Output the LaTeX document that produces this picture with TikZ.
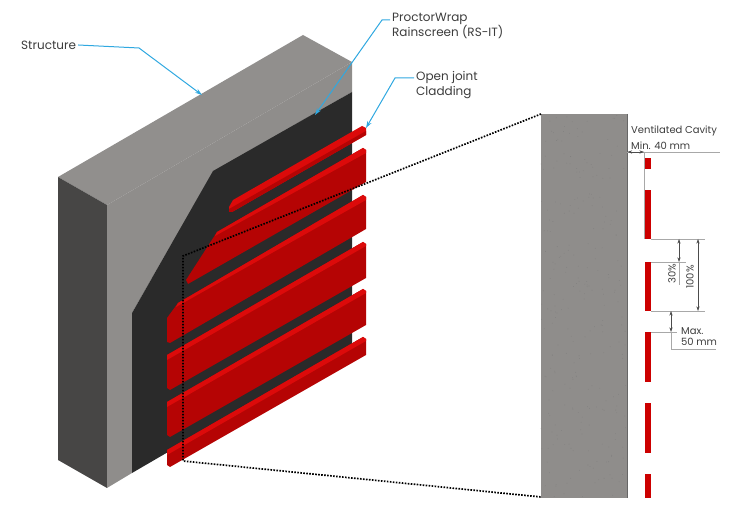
\documentclass[tikz,border=0pt]{standalone}
\usepackage{fontspec}
\setmainfont{Poppins}
\usepackage{xcolor}
\usetikzlibrary{positioning,calc,arrows.meta}
\definecolor{wallfront}{HTML}{8F8D8B}
\definecolor{walltop}{HTML}{918F8D}
\definecolor{wallside}{HTML}{474645}
\definecolor{wrapdark}{HTML}{2A2A2A}
\definecolor{cladfront}{HTML}{B50404}
\definecolor{cladband}{HTML}{DC0A0A}
\definecolor{leadblue}{HTML}{2FA8E0}
\definecolor{dimgray}{HTML}{A8A8A8}
\definecolor{labelgray}{HTML}{3C3C3C}
\tikzset{
	label/.style={font=\fontsize{12}{15}\selectfont, text=labelgray, align=left, inner sep=0pt, anchor=west},
	dimlabel/.style={font=\fontsize{10}{11.5}\selectfont, text=labelgray, align=left, inner sep=0pt},
	leader/.style={draw=leadblue, line width=1pt, -{Stealth[length=7pt,width=4.5pt]}},
	dimline/.style={draw=dimgray, line width=0.6pt},
	dimarrow/.style={draw=black!70, line width=0.4pt, {Stealth[length=4.5pt,width=3pt]}-{Stealth[length=4.5pt,width=3pt]}},
	zoomline/.style={draw=black, line width=1.7pt, dash pattern=on 1.6pt off 1.4pt},
}
\begin{document}
\begin{tikzpicture}[x=1pt,y=-1pt]
	\useasboundingbox (0,0) rectangle (756,510);
	% wall block
	\fill[walltop] (58,177) -- (303,35) -- (352,62) -- (107,205) -- cycle;
	\fill[wallside] (58,177) -- (107,205) -- (107,488) -- (58,460) -- cycle;
	\fill[wallfront] (107,205) -- (352,62) -- (352,92) -- (213,172) -- (132,313) -- (132,473) -- (107,488) -- cycle;
	\fill[wrapdark] (352,92) -- (213,171) -- (132,313) -- (132,473) -- (352,345) -- cycle;
	% cladding boards
	\fill[cladband] (233,200) -- (362,126) -- (366,128) -- (366,135) -- (232,212) -- (229,212) -- (229,207) -- cycle;
	\fill[cladfront] (366,131) -- (366,135) -- (232,212) -- (229,212) -- (229,209) -- cycle;
	\fill[cladfront] (363,148) -- (366,150) -- (366,182) -- (188,284) -- (186,280) -- (217,232) -- cycle;
	\fill[cladband] (217,232) -- (363,148) -- (366,150) -- (366,153) -- (215,236) -- cycle;
	\fill[cladfront] (363,195) -- (366,197) -- (366,229) -- (170,343) -- (167,342) -- (167,318) -- (178,303) -- cycle;
	\fill[cladband] (178,303) -- (363,195) -- (366,197) -- (366,200) -- (176,307) -- cycle;
	\foreach \ya/\h in {242/34,289/34,337/16}{
		\fill[cladfront] (363,\ya) -- (366,\ya+2) -- (366,\ya+2+\h) -- (170,\ya+114+\h) -- (167,\ya+112+\h) -- (167,\ya+113) -- cycle;
		\fill[cladband] (167,\ya+113) -- (363,\ya) -- (366,\ya+2) -- (366,\ya+4) -- (167,\ya+118) -- cycle;
	}
	% section
	\fill[wallfront] (541,114) rectangle (627,498);
	\pgfmathsetseed{7}
	\foreach \i in {1,...,260}{
		\fill[black!55, opacity=0.5] ({541+rnd*85},{114+rnd*383}) circle (0.4);
	}
	\draw[black!60, line width=0.7pt] (627,114) -- (627,498);
	\foreach \ya/\yb in {158/169,190/239,262/311,332/382,403/453,474/498}{
		\fill[red!80!black] (644.5,\ya) rectangle (651,\yb);
	}
	% zoom lines
	\coordinate (cornerA) at (183,256);
	\coordinate (cornerB) at (183,461);
	\coordinate (sectionA) at (541,114);
	\coordinate (sectionB) at (541,497);
	\draw[zoomline] (sectionA) -- (cornerA) -- (cornerB) -- (sectionB);
	% labels
	\node[label] (structure) at (21,45) {Structure};
	\node[label, anchor=north west] (wrap) at (392,13) {ProctorWrap\\Rainscreen (RS-IT)};
	\node[label, anchor=north west] (joint) at (416,71) {Open joint\\Cladding};
	\coordinate (structureTip) at (202,95);
	\coordinate (wrapTip) at (315,115);
	\coordinate (jointTip) at (366,128);
	\draw[leader] (structure.east) ++(2,0) -- (139,48) -- (structureTip);
	\draw[leader] (wrap.north west) ++(-2,7) -- (382,20) -- (wrapTip);
	\draw[leader] (joint.north west) ++(-2,7) -- (395,78) -- (jointTip);
	% dimensions
	\draw[dimline] (644,152) -- (644,239);
	\draw[dimline] (627,152) -- (720,152);
	\draw[dimline] (651,239) -- (705,239);
	\draw[dimline] (651,262) -- (686,262);
	\draw[dimline] (651,311) -- (705,311);
	\draw[dimline] (651,332) -- (677,332);
	\draw[dimline] (679,262) -- (679,285);
	\draw[dimline] (671,332) -- (671,349) -- (716,349);
	\draw[dimarrow] (627.5,152) -- (644,152);
	\draw[dimarrow] (679,239) -- (679,262);
	\draw[dimarrow] (698,239) -- (698,311);
	\draw[dimarrow] (671,311) -- (671,332);
	\node[dimlabel, anchor=west] (cavity) at (631,131) {Ventilated Cavity};
	\node[dimlabel, anchor=west] (cavitymin) at (631,146) {Min. 40 mm};
	\node[dimlabel, rotate=90] (short) at (672,274) {30\%};
	\node[dimlabel, rotate=90] (full) at (690,277) {100\%};
	\node[dimlabel, anchor=west] (gapmax) at (681,331) {Max.};
	\node[dimlabel, anchor=west] (gapval) at (681,342) {50 mm};
\end{tikzpicture}
\end{document}
